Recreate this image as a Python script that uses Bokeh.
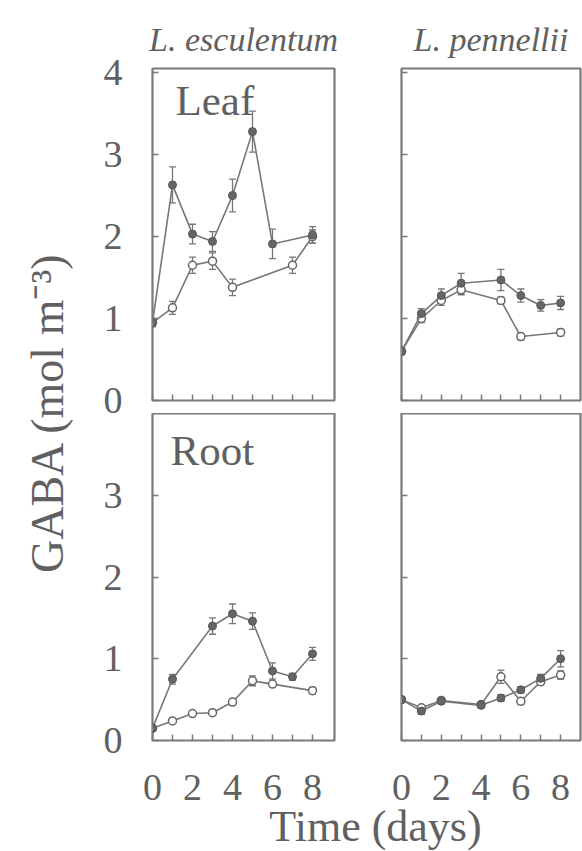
import math
from bokeh.plotting import figure
from bokeh.models import (Range1d, FixedTicker, Label, Whisker, ColumnDataSource,
                          TeeHead, CustomJSTickFormatter)
from bokeh.layouts import row, column
from bokeh.embed import file_html
from bokeh.resources import INLINE

# ---------------- data ----------------
esc_leaf_f_x = [0, 1, 2, 3, 4, 5, 6, 8]
esc_leaf_f_y = [0.95, 2.63, 2.03, 1.94, 2.50, 3.28, 1.91, 2.02]
esc_leaf_f_e = [0.05, 0.22, 0.12, 0.12, 0.20, 0.25, 0.18, 0.10]
esc_leaf_o_x = [0, 1, 2, 3, 4, 7, 8]
esc_leaf_o_y = [0.95, 1.13, 1.65, 1.70, 1.38, 1.65, 2.00]
esc_leaf_o_e = [0.05, 0.08, 0.10, 0.10, 0.10, 0.10, 0.08]

pen_leaf_f_x = [0, 1, 2, 3, 5, 6, 7, 8]
pen_leaf_f_y = [0.60, 1.06, 1.28, 1.43, 1.47, 1.28, 1.16, 1.19]
pen_leaf_f_e = [0.04, 0.06, 0.08, 0.12, 0.13, 0.08, 0.07, 0.08]
pen_leaf_o_x = [0, 1, 2, 3, 5, 6, 8]
pen_leaf_o_y = [0.60, 1.00, 1.22, 1.35, 1.22, 0.78, 0.83]
pen_leaf_o_e = [0.04, 0.05, 0.06, 0.06, 0.04, 0.04, 0.04]

esc_root_f_x = [0, 1, 3, 4, 5, 6, 7, 8]
esc_root_f_y = [0.15, 0.75, 1.40, 1.55, 1.46, 0.85, 0.78, 1.06]
esc_root_f_e = [0.03, 0.06, 0.10, 0.12, 0.10, 0.10, 0.04, 0.08]
esc_root_o_x = [0, 1, 2, 3, 4, 5, 6, 8]
esc_root_o_y = [0.15, 0.24, 0.33, 0.34, 0.47, 0.73, 0.69, 0.61]
esc_root_o_e = [0.03, 0.03, 0.03, 0.03, 0.04, 0.06, 0.03, 0.04]

pen_root_f_x = [0, 1, 2, 4, 5, 6, 7, 8]
pen_root_f_y = [0.50, 0.36, 0.48, 0.43, 0.52, 0.62, 0.76, 1.00]
pen_root_f_e = [0.03, 0.04, 0.03, 0.03, 0.04, 0.04, 0.05, 0.10]
pen_root_o_x = [0, 1, 2, 4, 5, 6, 7, 8]
pen_root_o_y = [0.50, 0.40, 0.49, 0.44, 0.78, 0.48, 0.72, 0.80]
pen_root_o_e = [0.03, 0.03, 0.03, 0.03, 0.08, 0.04, 0.04, 0.05]

x_major = [0, 2, 4, 6, 8]
x_minor = [1, 3, 5, 7]
leaf_yticks = [0, 1, 2, 3, 4]
root_yticks = [0, 1, 2, 3]

titles = ["L. esculentum", "L. pennellii"]
organs = ["Leaf", "Root"]
x_label = "Time (days)"
y_label = "GABA (mol m\u207b\u00b3)"

# ---------------- style ----------------
FONT = "Liberation Serif"
TXT = "#606060"
LINE = "#777777"
FRAME = "#7a7a7a"
blank = CustomJSTickFormatter(code="return '';")


def panel(fw, fh, xmax, ymax, yticks, mbl, mbt, mbb, mbr, xlabels, ylabels):
    p = figure(frame_width=fw, frame_height=fh,
               x_range=Range1d(0, xmax), y_range=Range1d(0, ymax),
               min_border_left=mbl, min_border_top=mbt,
               min_border_bottom=mbb, min_border_right=mbr,
               output_backend="svg", toolbar_location=None)
    p.grid.grid_line_color = None
    p.outline_line_color = FRAME
    p.outline_line_width = 2.2
    p.background_fill_color = "white"
    p.border_fill_color = "white"
    ax = p.xaxis[0]
    ax.ticker = FixedTicker(ticks=x_major, minor_ticks=x_minor)
    ay = p.yaxis[0]
    ay.ticker = FixedTicker(ticks=yticks, minor_ticks=[])
    for a in (ax, ay):
        a.axis_line_color = None
        a.major_tick_in = 6
        a.major_tick_out = 0
        a.minor_tick_in = 6
        a.minor_tick_out = 0
        a.major_tick_line_color = FRAME
        a.minor_tick_line_color = FRAME
        a.major_tick_line_width = 1.5
        a.minor_tick_line_width = 1.5
        a.major_label_text_font = FONT
        a.major_label_text_color = TXT
    ay.minor_tick_line_color = None
    if xlabels:
        ax.major_label_text_font_size = "38px"
        ax.major_label_standoff = 34
    else:
        ax.formatter = blank
        ax.major_label_text_font_size = "1px"
        ax.major_label_standoff = 0
    if ylabels:
        ay.major_label_text_font_size = "38px"
        ay.major_label_standoff = 30
    else:
        ay.formatter = blank
        ay.major_label_text_font_size = "1px"
        ay.major_label_standoff = 0
    return p


def series(p, xs, ys, es, filled):
    src = ColumnDataSource(dict(x=xs, y=ys, lo=[y - e for y, e in zip(ys, es)],
                                hi=[y + e for y, e in zip(ys, es)]))
    w = Whisker(source=src, base="x", lower="lo", upper="hi",
                line_color=LINE, line_width=1.3, level="underlay",
                upper_head=TeeHead(size=7, line_color=LINE, line_width=1.3),
                lower_head=TeeHead(size=7, line_color=LINE, line_width=1.3))
    p.add_layout(w)
    p.line("x", "y", source=src, line_color=LINE, line_width=1.6)
    if filled:
        p.scatter("x", "y", source=src, marker="circle", size=8,
                  fill_color="#666666", line_color="#555555", line_width=1)
    else:
        p.scatter("x", "y", source=src, marker="circle", size=8,
                  fill_color="white", line_color="#666666", line_width=1.5)


# top-left (esculentum leaf)
tl = panel(182, 332, 9.1, 4.05, leaf_yticks, 64, 68, 13, 10, False, True)
series(tl, esc_leaf_o_x, esc_leaf_o_y, esc_leaf_o_e, False)
series(tl, esc_leaf_f_x, esc_leaf_f_y, esc_leaf_f_e, True)
# top-right (pennellii leaf)
tr = panel(179, 332, 9.0, 4.05, leaf_yticks, 57, 68, 13, 2, False, False)
series(tr, pen_leaf_o_x, pen_leaf_o_y, pen_leaf_o_e, False)
series(tr, pen_leaf_f_x, pen_leaf_f_y, pen_leaf_f_e, True)
# bottom-left (esculentum root)
bl = panel(182, 327, 9.1, 4.0, root_yticks, 64, 0, 10, 10, True, True)
series(bl, esc_root_o_x, esc_root_o_y, esc_root_o_e, False)
series(bl, esc_root_f_x, esc_root_f_y, esc_root_f_e, True)
# bottom-right (pennellii root)
br = panel(179, 327, 9.0, 4.0, root_yticks, 57, 0, 10, 2, True, False)
series(br, pen_root_o_x, pen_root_o_y, pen_root_o_e, False)
series(br, pen_root_f_x, pen_root_f_y, pen_root_f_e, True)

for p, t in ((tl, titles[0]), (tr, titles[1])):
    p.title.text = t
    p.title.align = "center"
    p.title.text_font = FONT
    p.title.text_font_style = "italic"
    p.title.text_font_size = "34px"
    p.title.text_color = TXT
    p.title.standoff = 21

tl.add_layout(Label(x=1.15, y=3.66, text=organs[0], text_font=FONT,
                    text_font_size="43px", text_color=TXT,
                    text_baseline="middle"))
bl.add_layout(Label(x=0.9, y=3.55, text=organs[1], text_font=FONT,
                    text_font_size="43px", text_color=TXT,
                    text_baseline="middle"))

# y-axis label strip (coordinates are page pixels)
YH = 851
ylab = figure(frame_width=88, frame_height=YH, min_border=0,
              x_range=Range1d(0, 88), y_range=Range1d(YH, 0),
              x_axis_type=None, y_axis_type=None,
              output_backend="svg", toolbar_location=None)
ylab.grid.grid_line_color = None
ylab.outline_line_color = None
ylab.add_layout(Label(x=47, y=412, text=y_label, angle=math.pi / 2,
                      text_font=FONT, text_font_size="46px", text_color=TXT,
                      text_align="center", text_baseline="middle"))

# x-axis label strip
XH = 48
xlab = figure(frame_width=494, frame_height=XH, min_border=0,
              x_range=Range1d(0, 494), y_range=Range1d(XH, 0),
              x_axis_type=None, y_axis_type=None,
              output_backend="svg", toolbar_location=None)
xlab.grid.grid_line_color = None
xlab.outline_line_color = None
xlab.add_layout(Label(x=287, y=24, text=x_label, text_font=FONT,
                      text_font_size="44px", text_color=TXT,
                      text_align="center", text_baseline="middle"))

layout = row(ylab, column(row(tl, tr), row(bl, br), xlab))

open("out.html", "w").write(file_html(layout, INLINE))
